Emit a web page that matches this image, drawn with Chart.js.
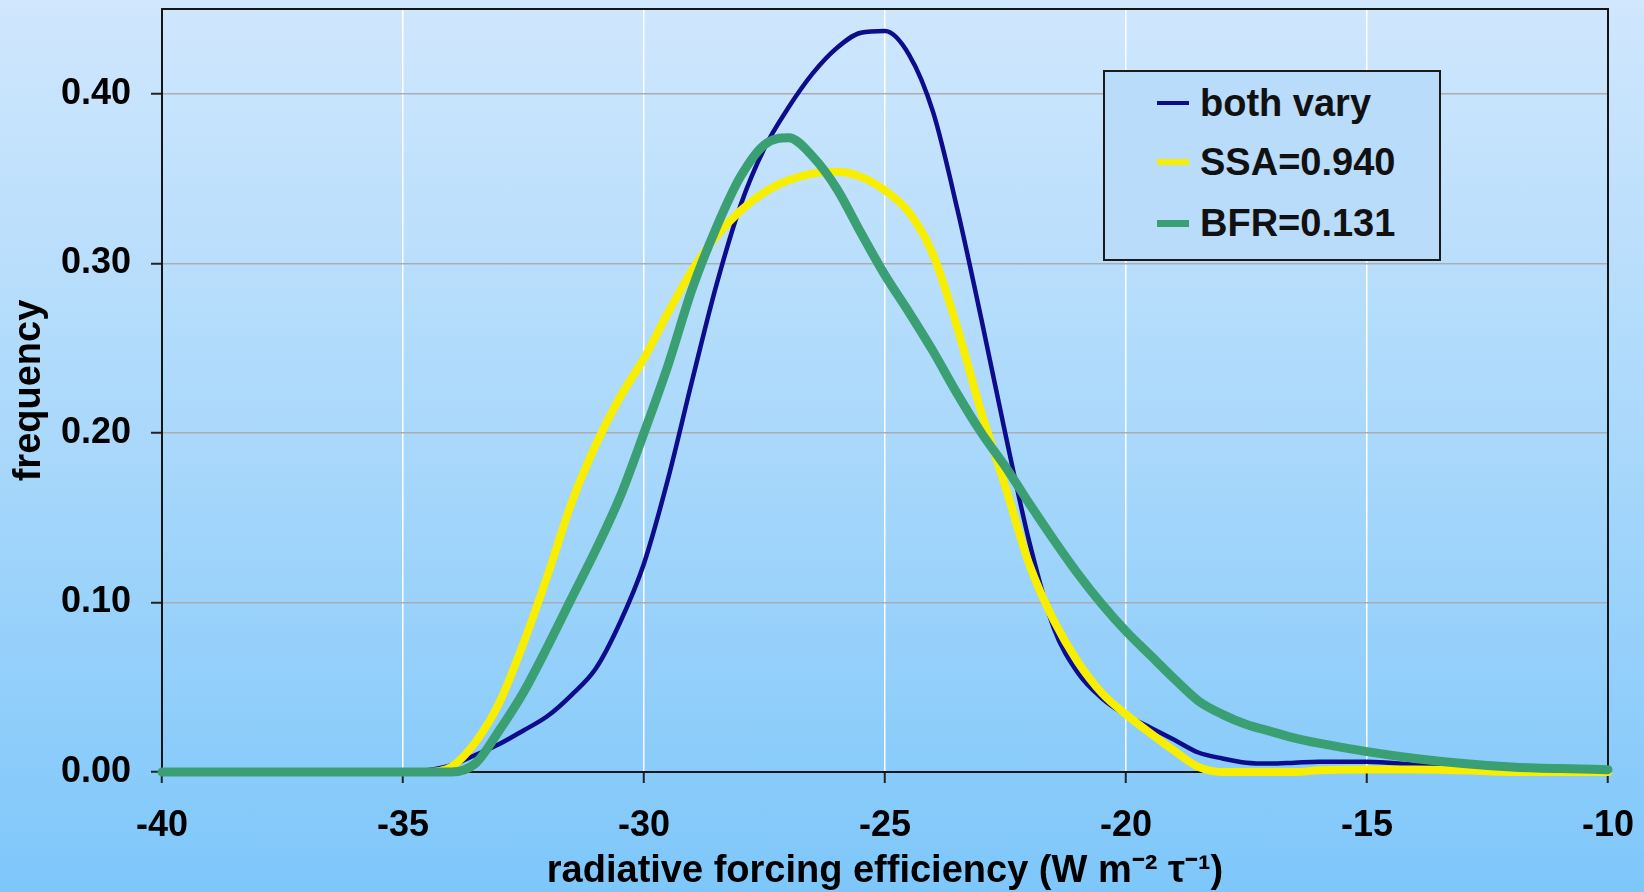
<!DOCTYPE html>
<html>
<head>
<meta charset="utf-8">
<script src="https://cdn.jsdelivr.net/npm/chart.js@4.4.1/dist/chart.umd.min.js"></script>
<style>
html, body { margin: 0; padding: 0; }
body {
    width: 1644px; height: 892px; overflow: hidden; position: relative;
    background: linear-gradient(to bottom, #d0e7fd 0%, #a9d8fb 50%, #7ec7fa 100%);
    font-family: 'Liberation Sans', Arial, sans-serif;
}
#myChart { position: absolute; left: 0; top: 0; }
#legend {
    position: absolute; left: 1103px; top: 70px; width: 338px; height: 191px;
    box-sizing: border-box; border: 2px solid #1a1a1a; background: #b8dcfa;
}
.legend-row { position: absolute; left: 0; height: 44px; display: flex; align-items: center; }
.legend-line { width: 32px; margin-left: 52px; margin-right: 11px; }
.legend-text { font-weight: bold; font-size: 38px; line-height: 44px; color: #111; white-space: nowrap; }
</style>
</head>
<body>
<canvas id="myChart" width="1644" height="892"></canvas>
<div id="legend"></div>
<script>
let xValues = [-40, -37, -36, -35, -34.5, -34, -33.5, -33, -32.5, -32, -31.5, -31, -30.5, -30,
    -29.5, -29, -28.5, -28, -27.5, -27, -26.5, -26, -25.5, -25,
    -24.5, -24, -23.5, -23, -22.5, -22, -21.5, -21, -20.5, -20,
    -19.5, -19, -18.5, -18, -17.5, -17, -16.5, -16, -15, -14, -13, -12, -11, -10]

let bothVary = [0, 0, 0, 0, 0.001, 0.004, 0.010, 0.0165, 0.0245, 0.033, 0.0455, 0.061, 0.088, 0.123,
    0.173, 0.231, 0.287, 0.334, 0.368, 0.392, 0.412, 0.427, 0.436, 0.437,
    0.423, 0.389, 0.332, 0.267, 0.199, 0.135, 0.085, 0.0585, 0.0435, 0.0335,
    0.0263, 0.019, 0.0115, 0.008, 0.0055, 0.005, 0.0055, 0.006, 0.006, 0.0042, 0.0025, 0.0007, 0, 0]

let ssa940 = [0, 0, 0, 0, 0, 0.003, 0.0175, 0.041, 0.076, 0.116, 0.159, 0.193, 0.221, 0.244,
    0.271, 0.296, 0.316, 0.331, 0.342, 0.349, 0.353, 0.354, 0.351, 0.343,
    0.330, 0.305, 0.262, 0.212, 0.168, 0.122, 0.0895, 0.065, 0.0465, 0.034,
    0.023, 0.0125, 0.003, 0, 0, 0, 0, 0.001, 0.0015, 0.0015, 0.001, 0, 0, 0]

let bfr131 = [0, 0, 0, 0, 0, 0, 0.005, 0.0246, 0.047, 0.074, 0.1026, 0.131, 0.162, 0.200,
    0.240, 0.285, 0.321, 0.351, 0.370, 0.374, 0.363, 0.344, 0.318, 0.293,
    0.271, 0.248, 0.223, 0.200, 0.180, 0.158, 0.137, 0.117, 0.099, 0.083,
    0.069, 0.055, 0.042, 0.034, 0.028, 0.024, 0.020, 0.017, 0.012, 0.008, 0.005, 0.003, 0.002, 0.0014]

let seriesNames = ['both vary', 'SSA=0.940', 'BFR=0.131']
let seriesColors = ['#0c0c8c', '#f7ee00', '#3b9f74']
let seriesWidths = [4.5, 8, 9]

let xTickValues = [-40, -35, -30, -25, -20, -15, -10]
let yTickValues = [0, 0.1, 0.2, 0.3, 0.4]

let xTitle = 'radiative forcing efficiency (W m\u207B\u00B2 \u03C4\u207B\u00B9)'
let yTitle = 'frequency'

let fontFamily = "'Liberation Sans', Arial, sans-serif"


function toPoints(values) {
    return xValues.map(function(x, i) {
        return { x: x, y: values[i] }
    })
}

let allSeries = [bothVary, ssa940, bfr131]
// green on top, then yellow, blue underneath
let drawOrder = [2, 1, 0]

let datasets = allSeries.map(function(values, i) {
    return {
        label: seriesNames[i],
        data: toPoints(values),
        borderColor: seriesColors[i],
        borderWidth: seriesWidths[i],
        pointRadius: 0,
        fill: false,
        cubicInterpolationMode: 'monotone',
        borderJoinStyle: 'round',
        borderCapStyle: 'round',
        clip: 8,
        order: drawOrder[i]
    }
})

// black frame round the plot area
let framePlugin = {
    id: 'frame',
    beforeDatasetsDraw: function(chart) {
        let a = chart.chartArea
        let ctx = chart.ctx
        ctx.save()
        ctx.strokeStyle = '#151515'
        ctx.lineWidth = 2
        ctx.strokeRect(a.left, a.top, a.right - a.left, a.bottom - a.top)
        ctx.restore()
    }
}

let chart1 = new Chart(document.getElementById('myChart'), {
    type: 'line',
    data: { datasets: datasets },
    options: {
        responsive: false,
        animation: false,
        layout: { padding: { top: 9, right: 36, left: 0, bottom: 0 } },
        plugins: {
            legend: { display: false },
            tooltip: { enabled: false }
        },
        scales: {
            x: {
                type: 'linear',
                min: -40,
                max: -10,
                afterBuildTicks: function(scale) {
                    scale.ticks = xTickValues.map(function(v) { return { value: v } })
                },
                afterFit: function(scale) {
                    scale.height = 120
                    scale.paddingLeft = 0
                    scale.paddingRight = 0
                },
                border: { display: false },
                grid: { color: '#ffffff', lineWidth: 1.5, tickLength: 11, tickColor: '#222', tickWidth: 2 },
                ticks: {
                    color: '#000',
                    padding: 21,
                    maxRotation: 0,
                    font: { family: fontFamily, size: 36, weight: 'bold' },
                    callback: function(value) { return String(value) }
                },
                title: {
                    display: true,
                    text: xTitle,
                    color: '#000',
                    padding: { top: 0, bottom: 0 },
                    font: { family: fontFamily, size: 38, weight: 'bold', lineHeight: 1.1 }
                }
            },
            y: {
                min: 0,
                max: 0.45,
                afterBuildTicks: function(scale) {
                    scale.ticks = yTickValues.map(function(v) { return { value: v } })
                },
                afterFit: function(scale) {
                    scale.width = 162
                    scale.paddingTop = 0
                    scale.paddingBottom = 0
                },
                border: { display: false },
                grid: { color: '#a9adb2', lineWidth: 1.5, tickLength: 11, tickColor: '#222', tickWidth: 2 },
                ticks: {
                    color: '#000',
                    padding: 20,
                    font: { family: fontFamily, size: 36, weight: 'bold' },
                    callback: function(value) { return value.toFixed(2) }
                },
                title: {
                    display: true,
                    text: yTitle,
                    color: '#000',
                    padding: { top: 7, bottom: 0 },
                    font: { family: fontFamily, size: 38, weight: 'bold', lineHeight: 1.2 }
                }
            }
        }
    },
    plugins: [framePlugin]
})


// legend box
let legendDiv = document.getElementById('legend')
let rowTops = [9, 68, 129]
let sampleHeights = [4, 6, 7]

seriesNames.forEach(function(name, i) {
    let row = document.createElement('div')
    row.className = 'legend-row'
    row.style.top = rowTops[i] + 'px'

    let line = document.createElement('span')
    line.className = 'legend-line'
    line.style.height = sampleHeights[i] + 'px'
    line.style.background = seriesColors[i]

    let text = document.createElement('span')
    text.className = 'legend-text'
    text.innerHTML = name

    row.append(line, text)
    legendDiv.append(row)
})
</script>
</body>
</html>
